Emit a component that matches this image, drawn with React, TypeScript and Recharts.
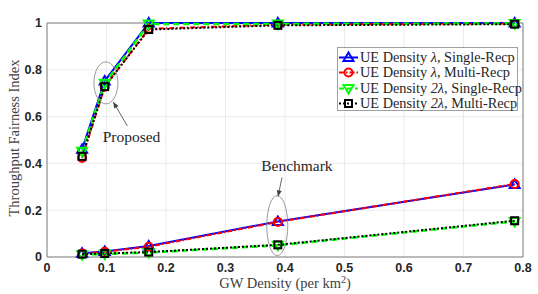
import React from 'react';
import {
  LineChart,
  Line,
  XAxis,
  YAxis,
  CartesianGrid,
  ReferenceArea,
  ReferenceDot,
} from 'recharts';

// GW density (per km^2)
const gwDensity = [0.059, 0.097, 0.171, 0.388, 0.786];

// proposed scheme
const propLamSingle = [0.46, 0.752, 1.0, 1.0, 1.0];
const propLamMulti = [0.423, 0.728, 0.975, 0.993, 0.997];
const propTwoSingle = [0.452, 0.742, 0.996, 0.996, 0.998];
const propTwoMulti = [0.43, 0.728, 0.972, 0.99, 0.995];

// benchmark scheme
const benchLamSingle = [0.016, 0.024, 0.047, 0.152, 0.31];
const benchLamMulti = [0.015, 0.022, 0.044, 0.15, 0.312];
const benchTwoSingle = [0.01, 0.013, 0.019, 0.05, 0.152];
const benchTwoMulti = [0.012, 0.015, 0.021, 0.052, 0.155];

const xTicks = [0, 0.1, 0.2, 0.3, 0.4, 0.5, 0.6, 0.7, 0.8];
const yTicks = [0, 0.2, 0.4, 0.6, 0.8, 1];

const legendItems = [
  { name: 'λ', recp: 'Single-Recp', color: '#0000ff', marker: 'up', dash: '' },
  { name: 'λ', recp: 'Multi-Recp', color: '#ff0000', marker: 'circle', dash: '5 2 1.5 2' },
  { name: '2λ', recp: 'Single-Recp', color: '#00ff00', marker: 'down', dash: '5 3' },
  { name: '2λ', recp: 'Multi-Recp', color: '#000000', marker: 'square', dash: '2 2' },
];

const data = gwDensity.map((x, i) => ({
  x,
  pls: propLamSingle[i],
  plm: propLamMulti[i],
  pts: propTwoSingle[i],
  ptm: propTwoMulti[i],
  bls: benchLamSingle[i],
  blm: benchLamMulti[i],
  bts: benchTwoSingle[i],
  btm: benchTwoMulti[i],
}));

const serif = '"Liberation Serif", "DejaVu Serif", serif';
const sans = '"Liberation Sans", Arial, sans-serif';

function Marker({ kind, cx, cy, color }: { kind: string; cx: number; cy: number; color: string }) {
  if (kind === 'up') {
    return (
      <path
        d={`M${cx},${cy - 5} L${cx + 5},${cy + 3.5} L${cx - 5},${cy + 3.5} Z`}
        fill="none"
        stroke={color}
        strokeWidth={2}
      />
    );
  }
  if (kind === 'down') {
    return (
      <path
        d={`M${cx},${cy + 5} L${cx + 5},${cy - 3.5} L${cx - 5},${cy - 3.5} Z`}
        fill="none"
        stroke={color}
        strokeWidth={2}
      />
    );
  }
  if (kind === 'circle') {
    return <circle cx={cx} cy={cy} r={4} fill="none" stroke={color} strokeWidth={2} />;
  }
  return <rect x={cx - 3.5} y={cy - 3.5} width={7} height={7} fill="none" stroke={color} strokeWidth={2} />;
}

const dotFor = (kind: string, color: string) => (props: any) => (
  <Marker key={props.key ?? `${kind}-${props.index}`} kind={kind} cx={props.cx} cy={props.cy} color={color} />
);

const ellipseShape = (rx: number, ry: number) => (props: any) => (
  <ellipse cx={props.cx} cy={props.cy} rx={rx} ry={ry} fill="none" stroke="#808080" strokeWidth={0.8} />
);

const textShape = (label: string) => (props: any) => (
  <text
    x={props.cx}
    y={props.cy}
    textAnchor="middle"
    dominantBaseline="central"
    fontFamily={serif}
    fontSize={15.5}
    fill="#262626"
  >
    {label}
  </text>
);

// arrow drawn from the anchor point by a pixel offset to its tip
const arrowShape = (dx: number, dy: number) => (props: any) => {
  const x1 = props.cx;
  const y1 = props.cy;
  const x2 = x1 + dx;
  const y2 = y1 + dy;
  const len = Math.hypot(dx, dy);
  const ux = dx / len;
  const uy = dy / len;
  const hl = 6;
  const hw = 2.5;
  const bx = x2 - ux * hl;
  const by = y2 - uy * hl;
  return (
    <g>
      <line x1={x1} y1={y1} x2={x2} y2={y2} stroke="#404040" strokeWidth={0.8} />
      <path
        d={`M${x2},${y2} L${bx - uy * hw},${by + ux * hw} L${bx + uy * hw},${by - ux * hw} Z`}
        fill="#404040"
      />
    </g>
  );
};

function Legend() {
  return (
    <div
      style={{
        position: 'absolute',
        left: 337,
        top: 47,
        width: 181,
        height: 64,
        background: '#fff',
        border: '1px solid #a0a0a0',
        fontFamily: serif,
        fontSize: 14.3,
        color: '#262626',
        boxSizing: 'border-box',
      }}
    >
      {legendItems.map((it, i) => (
        <div key={i} style={{ position: 'absolute', left: 0, top: 2 + i * 15.3, height: 15, display: 'flex', alignItems: 'center', whiteSpace: 'nowrap' }}>
          <svg width={21} height={15} style={{ display: 'block' }}>
            <line x1={1} y1={7.5} x2={20} y2={7.5} stroke={it.color} strokeWidth={2} strokeDasharray={it.dash} />
            <Marker kind={it.marker} cx={10.5} cy={7.5} color={it.color} />
          </svg>
          <span style={{ marginLeft: 1 }}>
            UE Density <i>{it.name}</i>, {it.recp}
          </span>
        </div>
      ))}
    </div>
  );
}

export default function App() {
  return (
    <div style={{ position: 'fixed', left: 0, top: 0, width: 538, height: 294, background: '#fff' }}>
      <LineChart width={538} height={294} data={data} margin={{ top: 23, right: 15, bottom: 0, left: 0 }}>
        <CartesianGrid stroke="#ebebeb" strokeWidth={1} />
        <XAxis
          dataKey="x"
          type="number"
          domain={[0, 0.8]}
          ticks={xTicks}
          height={37}
          tickLine={false}
          axisLine={false}
          tickSize={0}
          tickMargin={6}
          tick={{ fill: '#262626', fontSize: 12.5, fontWeight: 'bold', fontFamily: sans }}
          label={(props: any) => {
            const vb = props.viewBox;
            return (
              <text x={vb.x + vb.width / 2} y={vb.y + 31} textAnchor="middle" fontFamily={serif} fontSize={14.5} fill="#404040">
                GW Density (per km<tspan dy={-5} fontSize={10}>2</tspan>
                <tspan dy={5}>)</tspan>
              </text>
            );
          }}
        />
        <YAxis
          type="number"
          domain={[0, 1]}
          ticks={yTicks}
          width={47}
          tickLine={false}
          axisLine={false}
          tickSize={0}
          tickMargin={5}
          tick={{ fill: '#262626', fontSize: 12.5, fontWeight: 'bold', fontFamily: sans }}
          label={(props: any) => {
            const vb = props.viewBox;
            const cx = 14;
            const cy = vb.y + vb.height / 2 - 2;
            return (
              <text
                x={cx}
                y={cy}
                transform={`rotate(-90, ${cx}, ${cy})`}
                textAnchor="middle"
                dominantBaseline="central"
                fontFamily={serif}
                fontSize={14.5}
                fill="#404040"
              >
                Throughput Fairness Index
              </text>
            );
          }}
        />
        <ReferenceArea x1={0} x2={0.8} y1={0} y2={1} fill="none" stroke="#808080" strokeWidth={1} />

        <Line dataKey="pls" stroke="#0000ff" strokeWidth={2} isAnimationActive={false} dot={dotFor('up', '#0000ff')} />
        <Line dataKey="plm" stroke="#ff0000" strokeWidth={2} strokeDasharray="5 2 1.5 2" isAnimationActive={false} dot={dotFor('circle', '#ff0000')} />
        <Line dataKey="pts" stroke="#00ff00" strokeWidth={2.5} strokeDasharray="6 4" isAnimationActive={false} dot={dotFor('down', '#00ff00')} />
        <Line dataKey="ptm" stroke="#000000" strokeWidth={2} strokeDasharray="2 2" isAnimationActive={false} dot={dotFor('square', '#000000')} />

        <Line dataKey="bls" stroke="#0000ff" strokeWidth={2} isAnimationActive={false} dot={dotFor('up', '#0000ff')} />
        <Line dataKey="blm" stroke="#ff0000" strokeWidth={2} strokeDasharray="5 2 1.5 2" isAnimationActive={false} dot={dotFor('circle', '#ff0000')} />
        <Line dataKey="bts" stroke="#00ff00" strokeWidth={2.5} strokeDasharray="6 4" isAnimationActive={false} dot={dotFor('down', '#00ff00')} />
        <Line dataKey="btm" stroke="#000000" strokeWidth={2} strokeDasharray="2 2" isAnimationActive={false} dot={dotFor('square', '#000000')} />

        <ReferenceDot x={0.099} y={0.744} r={0} shape={ellipseShape(12, 21)} />
        <ReferenceDot x={0.387} y={0.134} r={0} shape={ellipseShape(10.5, 30)} />
        <ReferenceDot x={0.135} y={0.56} r={0} shape={arrowShape(-14, -24)} />
        <ReferenceDot x={0.142} y={0.515} r={0} shape={textShape('Proposed')} />
        <ReferenceDot x={0.395} y={0.34} r={0} shape={arrowShape(-4, 19)} />
        <ReferenceDot x={0.42} y={0.393} r={0} shape={textShape('Benchmark')} />
      </LineChart>
      <Legend />
    </div>
  );
}
